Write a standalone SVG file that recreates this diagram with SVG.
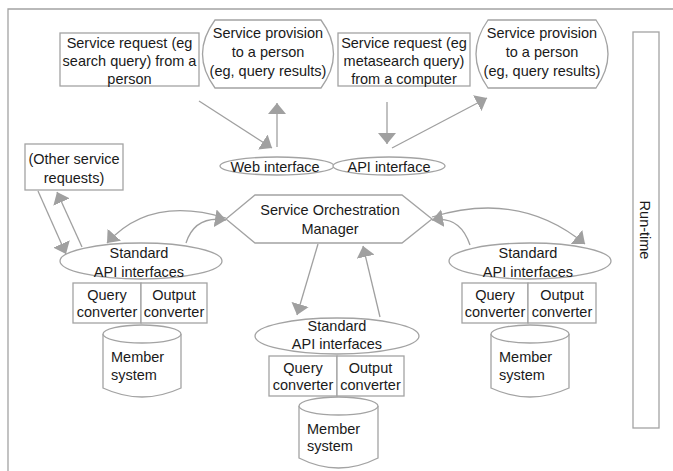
<svg xmlns="http://www.w3.org/2000/svg" width="673" height="471" viewBox="0 0 673 471">
<style>
.s{fill:#fff;stroke:#a3a3a3;stroke-width:1.3}
.c{fill:none;stroke:#a0a0a0;stroke-width:1.3}
text{font-family:"Liberation Sans",Arial,sans-serif;font-size:14.5px;fill:#1a1a1a}
.m{text-anchor:middle}
</style>
<defs>
<marker id="ah" markerWidth="12" markerHeight="18" refX="11" refY="9" orient="auto" markerUnits="userSpaceOnUse"><path d="M0,0 L11,9 L0,18 Z" fill="#a0a0a0"/></marker>
</defs>
<rect width="673" height="471" fill="#fff"/>
<path d="M8,471 L8,9 L673,9" fill="none" stroke="#a3a3a3" stroke-width="1.3"/>

<g id="runtime">
<rect class="s" x="633" y="32" width="26" height="396"/>
<text class="m" transform="translate(640,230) rotate(90)">Run-time</text>
</g>

<g id="req1">
<rect class="s" x="60" y="33" width="139" height="53"/>
<text class="m" x="129.5" y="48">Service request (eg</text>
<text class="m" x="129.5" y="66">search query) from a</text>
<text class="m" x="129.5" y="84">person</text>
</g>

<g id="prov1">
<path class="s" d="M215,20 L321,20 Q346,54 321,88 L215,88 Q190,54 215,20 Z"/>
<text class="m" x="268" y="38">Service provision</text>
<text class="m" x="268" y="57">to a person</text>
<text class="m" x="268" y="76">(eg, query results)</text>
</g>

<g id="req2">
<rect class="s" x="338" y="33" width="132" height="53"/>
<text class="m" x="404" y="48">Service request (eg</text>
<text class="m" x="404" y="66">metasearch query)</text>
<text class="m" x="404" y="84">from a computer</text>
</g>

<g id="prov2">
<path class="s" d="M488,20 L596,20 Q620,54 596,88 L488,88 Q464,54 488,20 Z"/>
<text class="m" x="542" y="38">Service provision</text>
<text class="m" x="542" y="57">to a person</text>
<text class="m" x="542" y="76">(eg, query results)</text>
</g>

<g id="web">
<ellipse class="s" cx="277" cy="166" rx="57" ry="9"/>
<text class="m" x="275" y="171.5">Web interface</text>
</g>

<g id="api">
<ellipse class="s" cx="389" cy="166" rx="56" ry="9"/>
<text class="m" x="389" y="171.5">API interface</text>
</g>

<g id="other">
<rect class="s" x="25" y="144" width="98" height="46"/>
<text class="m" x="74" y="164">(Other service</text>
<text class="m" x="74" y="183">requests)</text>
</g>

<g id="som">
<path class="s" d="M226,219 L255,195 L402,195 L432,219 L402,243 L255,243 Z"/>
<text class="m" x="330" y="215">Service Orchestration</text>
<text class="m" x="330" y="234">Manager</text>
</g>

<g id="left">
<ellipse class="s" cx="141" cy="261" rx="81" ry="18"/>
<text class="m" x="139" y="258">Standard</text>
<text class="m" x="139" y="277">API interfaces</text>
<rect class="s" x="73" y="283" width="68" height="40"/>
<rect class="s" x="141" y="283" width="66" height="40"/>
<text class="m" x="107" y="300">Query</text>
<text class="m" x="107" y="317">converter</text>
<text class="m" x="174" y="300">Output</text>
<text class="m" x="174" y="317">converter</text>
<path class="s" d="M103,334 L103,388 Q142,406 181,388 L181,334"/>
<ellipse class="s" cx="142" cy="334" rx="39" ry="9"/>
<text x="111" y="362">Member</text>
<text x="111" y="380">system</text>
</g>

<g id="middle">
<ellipse class="s" cx="337" cy="336" rx="82" ry="18"/>
<text class="m" x="337" y="331">Standard</text>
<text class="m" x="337" y="349">API interfaces</text>
<rect class="s" x="269" y="356" width="68" height="40"/>
<rect class="s" x="337" y="356" width="67" height="40"/>
<text class="m" x="303" y="373">Query</text>
<text class="m" x="303" y="390">converter</text>
<text class="m" x="370.5" y="373">Output</text>
<text class="m" x="370.5" y="390">converter</text>
<path class="s" d="M299,406 L299,458 Q338.5,478 378,458 L378,406"/>
<ellipse class="s" cx="338.5" cy="406" rx="39.5" ry="9"/>
<text x="307" y="433.5">Member</text>
<text x="307" y="451">system</text>
</g>

<g id="right">
<ellipse class="s" cx="530" cy="261" rx="81" ry="18"/>
<text class="m" x="528" y="258">Standard</text>
<text class="m" x="528" y="277">API interfaces</text>
<rect class="s" x="462" y="283" width="66" height="40"/>
<rect class="s" x="528" y="283" width="68" height="40"/>
<text class="m" x="495" y="300">Query</text>
<text class="m" x="495" y="317">converter</text>
<text class="m" x="562" y="300">Output</text>
<text class="m" x="562" y="317">converter</text>
<path class="s" d="M491,334 L491,388 Q530,406 569,388 L569,334"/>
<ellipse class="s" cx="530" cy="334" rx="39" ry="9"/>
<text x="499" y="362">Member</text>
<text x="499" y="380">system</text>
</g>

<g id="connectors" class="c" marker-end="url(#ah)">
<path class="c" marker-end="url(#ah)" d="M199,101 L272,148"/>
<path class="c" marker-end="url(#ah)" d="M277,147 L277,103"/>
<path class="c" marker-end="url(#ah)" d="M387,102 L387,144"/>
<path class="c" marker-end="url(#ah)" d="M392,148 L487,98"/>
<path class="c" marker-end="url(#ah)" d="M38,191 L66,254"/>
<path class="c" marker-end="url(#ah)" d="M82,247 L57,192"/>
<path class="c" marker-end="url(#ah)" d="M226,218 Q150,195 107,243"/>
<path class="c" marker-end="url(#ah)" d="M186,243 Q195,215 226,220"/>
<path class="c" marker-end="url(#ah)" d="M470,245 Q460,215 432,220"/>
<path class="c" marker-end="url(#ah)" d="M432,217 Q520,190 585,244"/>
<path class="c" marker-end="url(#ah)" d="M318,244 L297,315"/>
<path class="c" marker-end="url(#ah)" d="M380,317 L363,246"/>
</g>
</svg>
